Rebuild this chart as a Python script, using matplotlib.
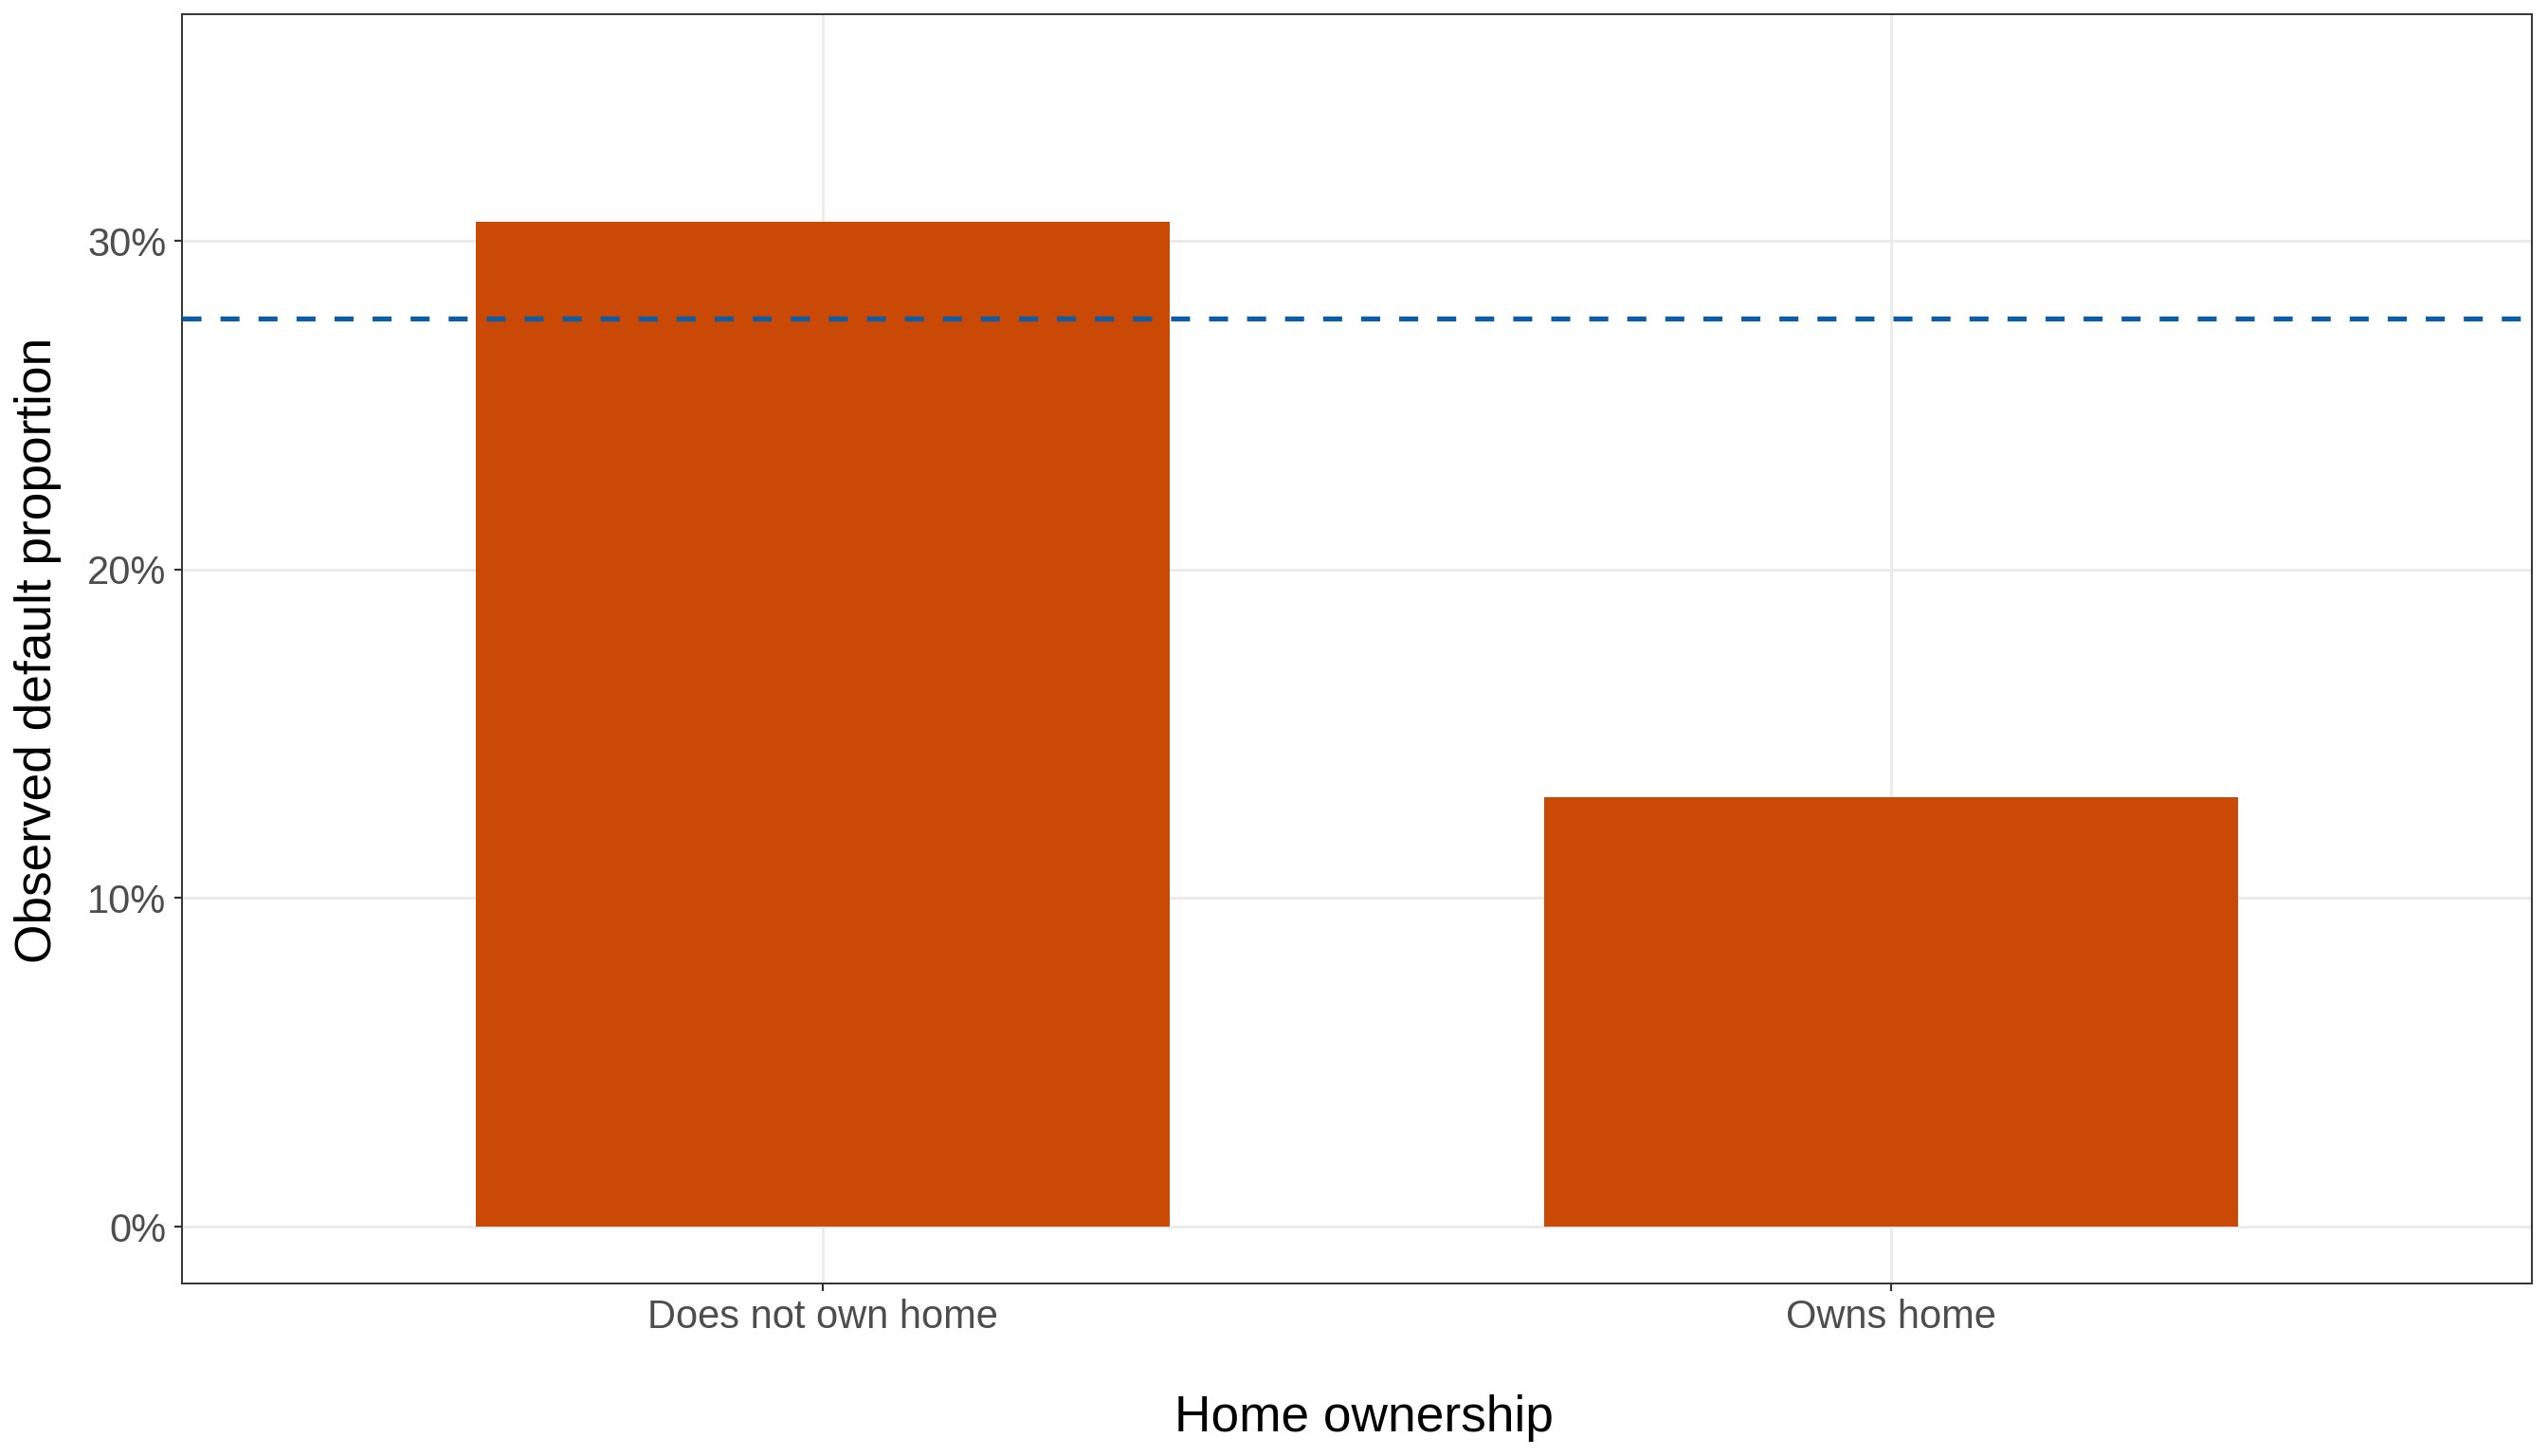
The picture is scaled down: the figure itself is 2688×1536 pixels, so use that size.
import matplotlib
matplotlib.use("Agg")
import matplotlib.pyplot as plt
from matplotlib.ticker import FuncFormatter

# data
categories = ["Does not own home", "Owns home"]
default_rate = [30.58, 13.07]   # percent
overall_rate = 27.65            # dashed reference line, percent
y_ticks = [0, 10, 20, 30]

BAR_COLOR = "#C94905"
LINE_COLOR = "#0D5DA6"

plt.rcParams['font.family'] = ['Liberation Sans', 'DejaVu Sans']

fig = plt.figure(figsize=(13.44, 7.68), dpi=200)
ax = fig.add_axes([0.0714, 0.1185, 0.9223, 0.8717])

x = list(range(1, len(categories) + 1))
ax.bar(x, default_rate, width=0.65, color=BAR_COLOR, zorder=2)
ax.axhline(overall_rate, color=LINE_COLOR, lw=1.9, dashes=(3.8, 3.8), zorder=3)

ax.set_xlim(0.4, 2.6)
ax.set_ylim(-1.73, 36.9)
ax.set_xticks(x)
ax.set_xticklabels(categories)
ax.set_yticks(y_ticks)
ax.yaxis.set_major_formatter(FuncFormatter(lambda v, p: "%d%%" % v))

ax.grid(True, color="#EBEBEB", lw=1.1, zorder=0)
ax.set_axisbelow(True)
for s in ax.spines.values():
    s.set_color("#333333")
    s.set_linewidth(0.7)
ax.tick_params(axis="both", colors="#333333", length=2.9, width=0.8,
               labelsize=15, labelcolor="#4D4D4D", pad=3)
ax.tick_params(axis="x", pad=3)

# axis titles placed by hand so nothing gets cut at the edge
fig.text(0.5355, 0.0258, "Home ownership", fontsize=19.2, color="black",
         ha="center", va="center")
fig.text(0.0150, 0.5536, "Observed default proportion", fontsize=19.2,
         color="black", ha="center", va="center", rotation=90)

fig.savefig("out.png", dpi=200)
